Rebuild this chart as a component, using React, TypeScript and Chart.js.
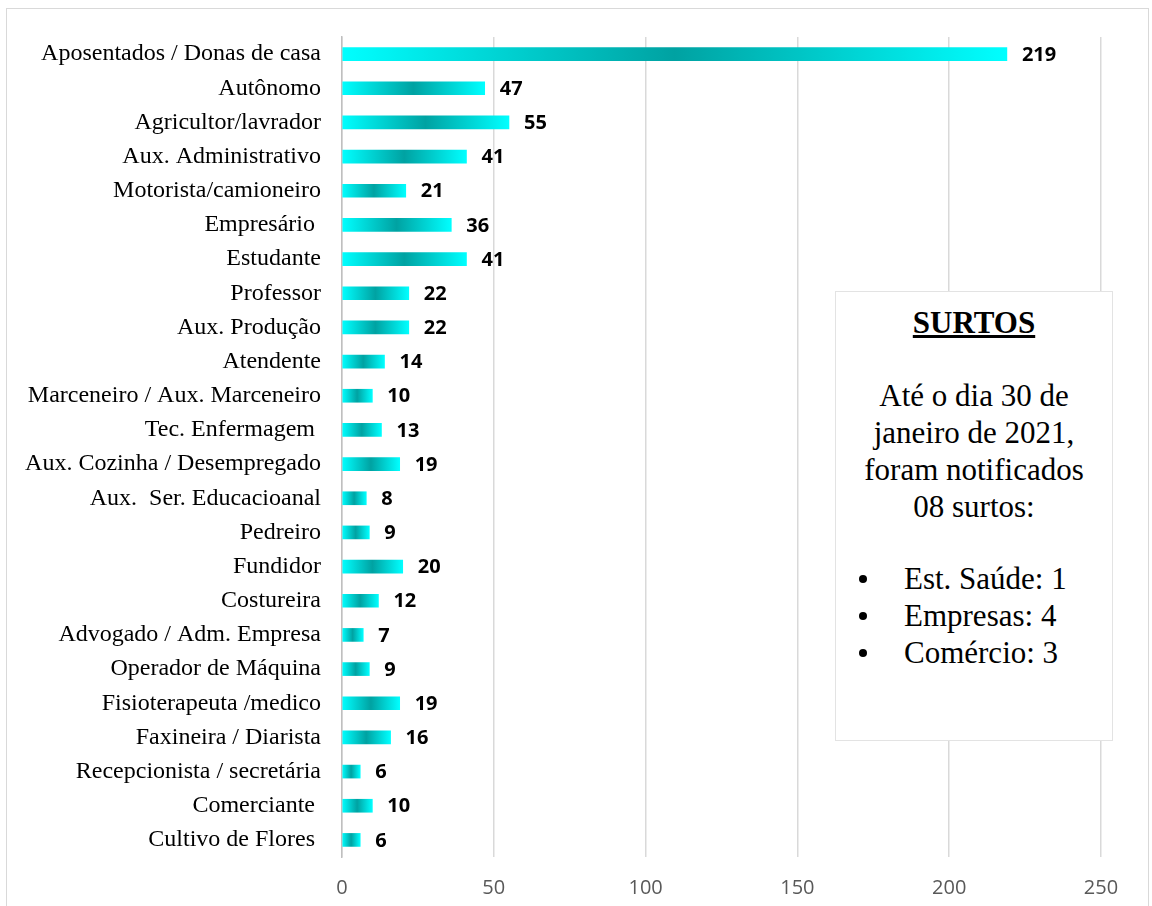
import React, { useEffect, useRef } from "react";
import { Chart, registerables } from "chart.js";

Chart.register(...registerables);

const categories: string[] = [
  "Aposentados / Donas de casa",
  "Autônomo",
  "Agricultor/lavrador",
  "Aux. Administrativo",
  "Motorista/camioneiro",
  "Empresário ",
  "Estudante",
  "Professor",
  "Aux. Produção",
  "Atendente",
  "Marceneiro / Aux. Marceneiro",
  "Tec. Enfermagem ",
  "Aux. Cozinha / Desempregado",
  "Aux.  Ser. Educacioanal",
  "Pedreiro",
  "Fundidor",
  "Costureira",
  "Advogado / Adm. Empresa",
  "Operador de Máquina",
  "Fisioterapeuta /medico",
  "Faxineira / Diarista",
  "Recepcionista / secretária",
  "Comerciante ",
  "Cultivo de Flores ",
];

const values: number[] = [
  219, 47, 55, 41, 21, 36, 41, 22, 22, 14, 10, 13, 19, 8, 9, 20, 12, 7, 9, 19, 16, 6, 10, 6,
];

const xTicks: number[] = [0, 50, 100, 150, 200, 250];

const boxTitle = "SURTOS";
const boxLines: string[] = ["Até o dia 30 de", "janeiro de 2021,", "foram notificados", "08 surtos:"];
const boxBullets: string[] = ["Est. Saúde: 1", "Empresas: 4", "Comércio: 3"];

const valueLabels = {
  id: "valueLabels",
  afterDatasetsDraw(chart: any) {
    const ctx = chart.ctx;
    const meta = chart.getDatasetMeta(0);
    ctx.save();
    ctx.font = "bold 20px 'Open Sans', 'DejaVu Sans', sans-serif";
    ctx.fillStyle = "#000000";
    ctx.textAlign = "left";
    ctx.textBaseline = "middle";
    meta.data.forEach((bar: any, i: number) => {
      ctx.fillText(String(values[i]), bar.x + 15, bar.y + 1);
    });
    ctx.restore();
  },
};

function App() {
  const canvasRef = useRef<HTMLCanvasElement | null>(null);

  useEffect(() => {
    const canvas = canvasRef.current;
    if (!canvas) return;
    const chart = new Chart(canvas, {
      type: "bar",
      data: {
        labels: categories,
        datasets: [
          {
            data: values,
            backgroundColor: (c: any) => {
              const ch = c.chart;
              const xs = ch.scales && ch.scales.x;
              if (!xs || c.type !== "data") return "#00ffff";
              const x0 = xs.getPixelForValue(0);
              const x1 = xs.getPixelForValue(c.raw);
              if (!isFinite(x0) || !isFinite(x1) || x1 - x0 < 1) return "#00ffff";
              const g = ch.ctx.createLinearGradient(x0, 0, x1, 0);
              g.addColorStop(0, "#00ffff");
              g.addColorStop(0.5, "#00a2a2");
              g.addColorStop(1, "#00ffff");
              return g;
            },
            borderWidth: 0,
            barThickness: 13,
          },
        ],
      },
      options: {
        indexAxis: "y",
        responsive: false,
        animation: false,
        layout: { padding: { top: 37, right: 51, left: 0, bottom: 0 } },
        plugins: {
          legend: { display: false },
          tooltip: { enabled: false },
          title: { display: false },
        },
        scales: {
          x: {
            min: 0,
            max: 250,
            afterBuildTicks: (scale: any) => {
              scale.ticks = xTicks.map((v) => ({ value: v }));
            },
            afterFit: (scale: any) => {
              scale.height = 49;
            },
            grid: { color: "#d9d9d9", lineWidth: 1.5, drawTicks: false },
            border: { display: false },
            ticks: {
              padding: 19,
              color: "#595959",
              font: { family: "'Open Sans', 'Liberation Sans', sans-serif", size: 20 },
            },
          },
          y: {
            afterFit: (scale: any) => {
              scale.width = 342;
            },
            grid: { display: false, drawTicks: false },
            border: { display: true, color: "#bfbfbf", width: 1.5 },
            ticks: {
              padding: 21,
              color: "#000000",
              autoSkip: false,
              font: { family: "'Liberation Serif', 'Times New Roman', serif", size: 24 },
            },
          },
        },
      },
      plugins: [valueLabels],
    } as any);
    return () => chart.destroy();
  }, []);

  return (
    <div style={{ position: "absolute", left: 0, top: 0, width: 1152, height: 906, overflow: "hidden", background: "#ffffff" }}>
      <div
        style={{
          position: "absolute",
          left: 6,
          top: 8,
          width: 1143,
          height: 910,
          border: "1px solid #d9d9d9",
          boxSizing: "border-box",
        }}
      />
      <canvas
        ref={canvasRef}
        width={1152}
        height={906}
        style={{ position: "absolute", left: 0, top: 0, display: "block" }}
      />
      <div
        style={{
          position: "absolute",
          left: 835,
          top: 291,
          width: 278,
          height: 450,
          border: "1px solid #e3e3e3",
          boxSizing: "border-box",
          background: "#ffffff",
          fontFamily: "'Liberation Serif', 'Times New Roman', serif",
          fontSize: 31,
          lineHeight: "37px",
          color: "#000000",
        }}
      >
        <div style={{ position: "absolute", left: 0, right: 0, top: 12, textAlign: "center", fontWeight: "bold", textDecoration: "underline" }}>
          {boxTitle}
        </div>
        <div style={{ position: "absolute", left: 0, right: 0, top: 85, textAlign: "center", whiteSpace: "nowrap" }}>
          {boxLines.map((l, i) => (
            <div key={i}>{l}</div>
          ))}
        </div>
        <div style={{ position: "absolute", left: 0, right: 0, top: 268 }}>
          {boxBullets.map((b, i) => (
            <div key={i} style={{ position: "relative", height: 37 }}>
              <span
                style={{
                  position: "absolute",
                  left: 23,
                  top: 15,
                  width: 8,
                  height: 8,
                  borderRadius: 4,
                  background: "#000000",
                }}
              />
              <span style={{ position: "absolute", left: 68, top: 0, whiteSpace: "nowrap" }}>{b}</span>
            </div>
          ))}
        </div>
      </div>
    </div>
  );
}

export default App;
